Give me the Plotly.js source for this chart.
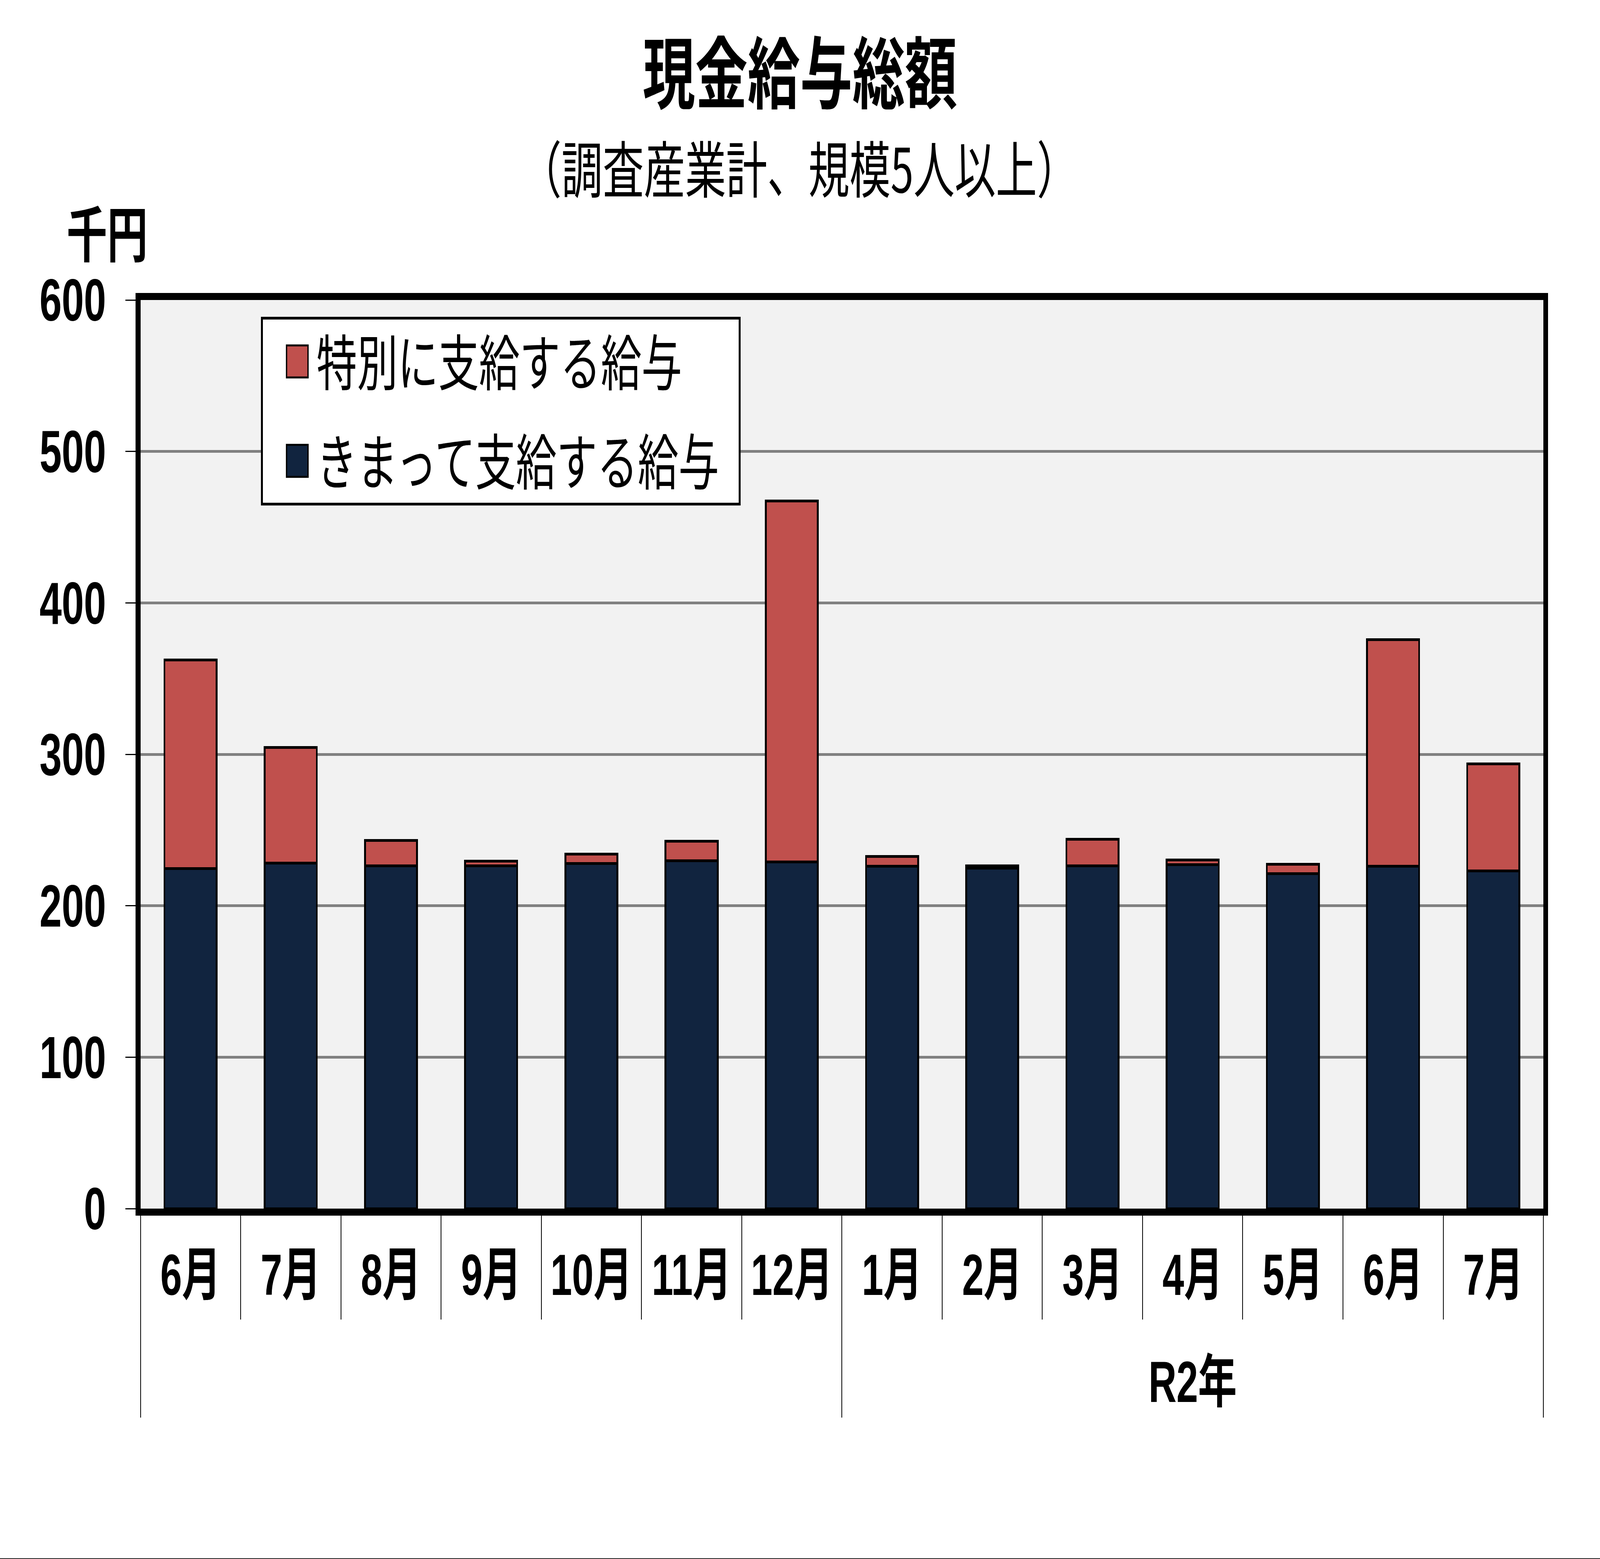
<!DOCTYPE html>
<html>
<head>
<meta charset="utf-8">
<script src="https://cdn.plot.ly/plotly-3.0.1.min.js"></script>
<style>
  html, body { margin: 0; padding: 0; background: #fff; overflow: hidden; }
  #chart { width: 6106px; height: 3991px; transform-origin: 0 0; }
  #edge { position: absolute; left: 0; right: 0; bottom: 0; height: 2px; background: #222; }
</style>
</head>
<body>
<div id="chart"></div>
<div id="edge"></div>
<script>
// ---- data ----
var months = ['6月','7月','8月','9月','10月','11月','12月','1月','2月','3月','4月','5月','6月','7月'];
var years  = ['','','','','','','','R2年','R2年','R2年','R2年','R2年','R2年','R2年'];
var regularPay = [224.5, 228.2, 226.3, 226.3, 228.0, 229.8, 228.9, 226.0, 224.8, 226.3, 227.2, 221.3, 226.0, 223.0];
var specialPay = [137.8, 76.2, 16.8, 3.1, 6.0, 12.7, 238.4, 6.5, 1.5, 17.7, 2.9, 6.0, 149.8, 70.8];
var seriesNames = ['きまって支給する給与', '特別に支給する給与'];
var yTicks = [0, 100, 200, 300, 400, 500, 600];

// multicategory x: group label (blank for the first year), month label.
// A zero-width space keeps repeated month names distinct between groups;
// a tiny trailing line gives the year row its distance below the months.
var seen = {};
var groupLevel = years.map(function (y) { return y === '' ? ' ' : y; });
var monthLevel = months.map(function (m) {
  var key = seen[m] ? m + '\u200b' : m;
  seen[m] = true;
  return key + '<br><span style="font-size:1px;baseline-shift:29px">\u00a0</span>';
});
var xCats = [groupLevel, monthLevel];

var W = 6106, H = 3991;
var M = { l: 536, r: 216, t: 768, b: 897 };
var plotW = W - M.l - M.r, plotH = H - M.t - M.b;
function px2paperX(px) { return (px - M.l) / plotW; }
function px2paperY(py) { return 1 - (py - M.t) / plotH; }

var numFont = 'Liberation Sans, Arial, Noto Sans CJK JP, sans-serif';
var cjkFont = 'Noto Sans CJK JP, sans-serif';

var traces = [
  {
    type: 'bar', name: seriesNames[0] + '\u00a0\u00a0', x: xCats, y: regularPay,
    legendgroup: 'g1', legendrank: 2,
    marker: { color: '#11243F', line: { color: '#000000', width: 7 } }
  },
  {
    type: 'bar', name: seriesNames[1], x: xCats, y: specialPay,
    legendgroup: 'g2', legendrank: 1,
    marker: { color: '#C0504D', line: { color: '#000000', width: 7 } }
  }
];

var layout = {
  width: W, height: H,
  margin: M,
  paper_bgcolor: '#FFFFFF',
  plot_bgcolor: '#F2F2F2',
  barmode: 'stack',
  bargap: 0.48,
  font: { family: cjkFont, color: '#000000' },
  title: {
    text: '現金給与総額',
    font: { family: cjkFont, size: 200, weight: 'bold', color: '#000' },
    xref: 'container', x: 0.5, xanchor: 'center',
    yref: 'container', y: 1 - 192 / H, yanchor: 'middle'
  },
  showlegend: true,
  legend: {
    x: px2paperX(996), y: px2paperY(811), xanchor: 'left', yanchor: 'top',
    bgcolor: '#FFFFFF', bordercolor: '#000000', borderwidth: 7,
    font: { family: cjkFont, size: 155, color: '#000' },
    traceorder: 'grouped',
    tracegroupgap: 50,
    itemwidth: 195
  },
  xaxis: {
    type: 'multicategory',
    showline: true, linecolor: '#000000', linewidth: 18, mirror: true,
    ticks: 'outside', ticklen: 266, tickwidth: 3, tickcolor: '#000000',
    showdividers: true, dividercolor: '#000000', dividerwidth: 3,
    showgrid: false, zeroline: false,
    ticklabelstandoff: 25,
    tickfont: { family: numFont, size: 148, weight: 'bold', color: '#000' }
  },
  yaxis: {
    range: [0, 600], tickmode: 'array', tickvals: yTicks, ticktext: yTicks.map(String),
    showline: true, linecolor: '#000000', linewidth: 18, mirror: true,
    ticks: 'outside', ticklen: 40, tickwidth: 3, tickcolor: '#000000',
    showgrid: true, gridcolor: '#808080', gridwidth: 7,
    zeroline: false,
    ticklabelstandoff: 43,
    tickfont: { family: numFont, size: 152, weight: 'bold', color: '#000' }
  },
  annotations: [
    {
      text: '（調査産業計、規模5人以上）', showarrow: false,
      xref: 'paper', yref: 'paper', x: px2paperX(3050), y: px2paperY(424),
      xanchor: 'center', yanchor: 'middle',
      font: { family: cjkFont, size: 157, color: '#000' }
    },
    {
      text: '千円', showarrow: false,
      xref: 'paper', yref: 'paper', x: px2paperX(409), y: px2paperY(589),
      xanchor: 'center', yanchor: 'middle',
      font: { family: cjkFont, size: 155, weight: 'bold', color: '#000' }
    }
  ]
};

var gd = document.getElementById('chart');
function fixLegend() {
  // square keys the size of the reference's legend keys
  gd.querySelectorAll('g.legendpoints path').forEach(function (p) {
    p.setAttribute('d', 'M70,41H-12V-41H70Z');
  });
}
function fitViewport() {
  // the window can be narrower than the chart; fit the whole chart into it
  var sx = Math.min(1, window.innerWidth / W), sy = Math.min(1, window.innerHeight / H);
  if (sx < 0.999 || sy < 0.999) {
    gd.style.transform = 'scale(' + sx + ',' + sy + ')';
  }
}
Plotly.newPlot(gd, traces, layout, { staticPlot: true }).then(function () {
  fixLegend();
  gd.on('plotly_afterplot', fixLegend);
  setTimeout(fixLegend, 50);
  fitViewport();
});
</script>
</body>
</html>
